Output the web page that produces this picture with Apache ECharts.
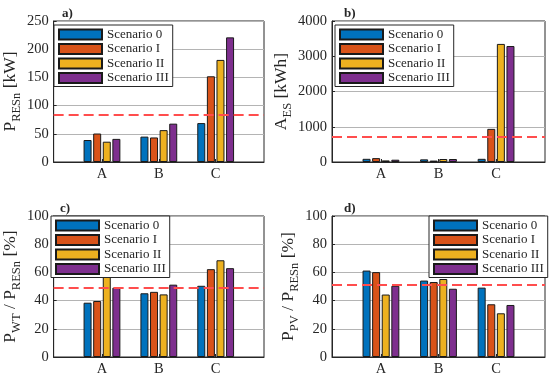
<!DOCTYPE html>
<html><head><meta charset="utf-8">
<script src="https://cdn.jsdelivr.net/npm/echarts@6/dist/echarts.min.js"></script>
<style>html,body{margin:0;padding:0;background:#fff}#c{width:550px;height:377px}</style>
</head><body><div id="c"></div>
<script>
const categories = ['A', 'B', 'C'];
const scenarios = ['Scenario 0', 'Scenario I', 'Scenario II', 'Scenario III'];
// panel a: P_RESn [kW]
const aS0 = [39, 45, 69];
const aS1 = [50.5, 43.5, 152];
const aS2 = [36, 56.5, 181];
const aS3 = [41, 68, 221];
const aRef = 83.5;
// panel b: A_ES [kWh]
const bS0 = [90, 75, 90];
const bS1 = [110, 40, 940];
const bS2 = [45, 85, 3350];
const bS3 = [65, 85, 3290];
const bRef = 705;
// panel c: P_WT / P_RESn [%]
const cS0 = [38.5, 45.2, 50.5];
const cS1 = [39.7, 46.2, 62.3];
const cS2 = [60, 44.4, 68.6];
const cS3 = [49.2, 51.3, 63];
const cRef = 49.2;
// panel d: P_PV / P_RESn [%]
const dS0 = [61.3, 54.2, 49.2];
const dS1 = [60.2, 53.2, 37.4];
const dS2 = [44.3, 55.3, 31];
const dS3 = [50.5, 48.4, 36.9];
const dRef = 50.9;
const yTicks = { a: [0, 250, 50], b: [0, 4000, 1000], c: [0, 100, 20], d: [0, 100, 20] };

const colors = ['#0072BD', '#D95319', '#EDB120', '#7E2F8E'];
const FONT = 'Liberation Serif';
const INK = '#262626';

const panels = [
  { key: 'a', data: [aS0, aS1, aS2, aS3], ref: aRef, name: '{m|P}{s|RESn}{m| [kW]}',
    grid: { left: 51, top: 21, width: 213, height: 141 }, legend: { left: 54, top: 25 }, title: { left: 57, top: 2 } },
  { key: 'b', data: [bS0, bS1, bS2, bS3], ref: bRef, name: '{m|A}{s|ES}{m| [kWh]}',
    grid: { left: 332, top: 21, width: 213, height: 141 }, legend: { left: 335, top: 25 }, title: { left: 339, top: 2 } },
  { key: 'c', data: [cS0, cS1, cS2, cS3], ref: cRef, name: '{m|P}{s|WT}{m| / P}{s|RESn}{m| [%]}',
    grid: { left: 51, top: 216, width: 213, height: 142 }, legend: { left: 51, top: 216 }, title: { left: 55, top: 197 } },
  { key: 'd', data: [dS0, dS1, dS2, dS3], ref: dRef, name: '{m|P}{s|PV}{m| / P}{s|RESn}{m| [%]}',
    grid: { left: 332, top: 216, width: 213, height: 142 }, legend: { left: 429, top: 216 }, title: { left: 339, top: 197 } }
];

const option = {
  backgroundColor: '#fff',
  animation: false,
  title: [], grid: [], xAxis: [], yAxis: [], legend: [], series: []
};

panels.forEach((p, i) => {
  option.title.push({ text: p.key + ')', left: p.title.left, top: p.title.top,
    textStyle: { fontFamily: FONT, fontSize: 13, fontWeight: 'bold', color: INK } });
  option.grid.push(Object.assign({ show: true, borderColor: INK, borderWidth: 1, backgroundColor: '#fff' }, p.grid));
  option.xAxis.push({
    type: 'value', gridIndex: i, min: 0.15, max: 3.85,
    axisLine: { show: true, lineStyle: { color: INK } },
    axisTick: { show: true, inside: true, length: 3, customValues: [1, 2, 3], lineStyle: { color: INK } },
    axisLabel: { customValues: [1, 2, 3], formatter: v => categories[Math.round(v) - 1] || '',
      fontFamily: FONT, fontSize: 14.5, color: INK, margin: 5 },
    splitLine: { show: false }
  });
  const t = yTicks[p.key];
  option.yAxis.push({
    type: 'value', gridIndex: i, min: t[0], max: t[1], interval: t[2],
    name: p.name, nameLocation: 'middle', nameGap: 31,
    nameTextStyle: { fontFamily: FONT, color: INK,
      rich: { m: { fontFamily: FONT, fontSize: 17.5, lineHeight: 17, verticalAlign: 'top', color: INK },
              s: { fontFamily: FONT, fontSize: 12.5, lineHeight: 12, verticalAlign: 'top', padding: [9, 0, 0, 0], color: INK } } },
    axisLine: { show: true, lineStyle: { color: INK } },
    axisTick: { show: true, inside: true, length: 3, lineStyle: { color: INK } },
    axisLabel: { fontFamily: FONT, fontSize: 14.5, color: INK, margin: 5, formatter: v => String(v) },
    splitLine: { show: true, lineStyle: { color: '#b4b4b4', width: 1 } }
  });
  option.legend.push({
    data: scenarios, orient: 'vertical', left: p.legend.left, top: p.legend.top,
    icon: 'rect',
    itemWidth: 43, itemHeight: 10, itemGap: 1.5, padding: [3, 4, 2, 4],
    backgroundColor: '#fff', borderColor: INK, borderWidth: 1, borderRadius: 0,
    selectedMode: false,
    textStyle: { fontFamily: FONT, fontSize: 13, color: INK }
  });
  p.data.forEach((vals, k) => {
    const s = {
      type: 'bar', name: scenarios[k], xAxisIndex: i, yAxisIndex: i,
      data: vals.map((v, j) => [j + 1, v]),
      barWidth: 8, barGap: '20%',
      itemStyle: { color: colors[k], borderColor: '#1a1a1a', borderWidth: 1 },
      emphasis: { disabled: true }
    };
    if (k === 0) {
      s.markLine = { silent: true, symbol: 'none', label: { show: false }, z: 5,
        lineStyle: { color: '#ff4d4d', type: [10, 5], width: 2 },
        data: [{ yAxis: p.ref }] };
    }
    option.series.push(s);
  });
});

const chart = echarts.init(document.getElementById('c'), null, { renderer: 'canvas' });
chart.setOption(option);
</script>
</body></html>
